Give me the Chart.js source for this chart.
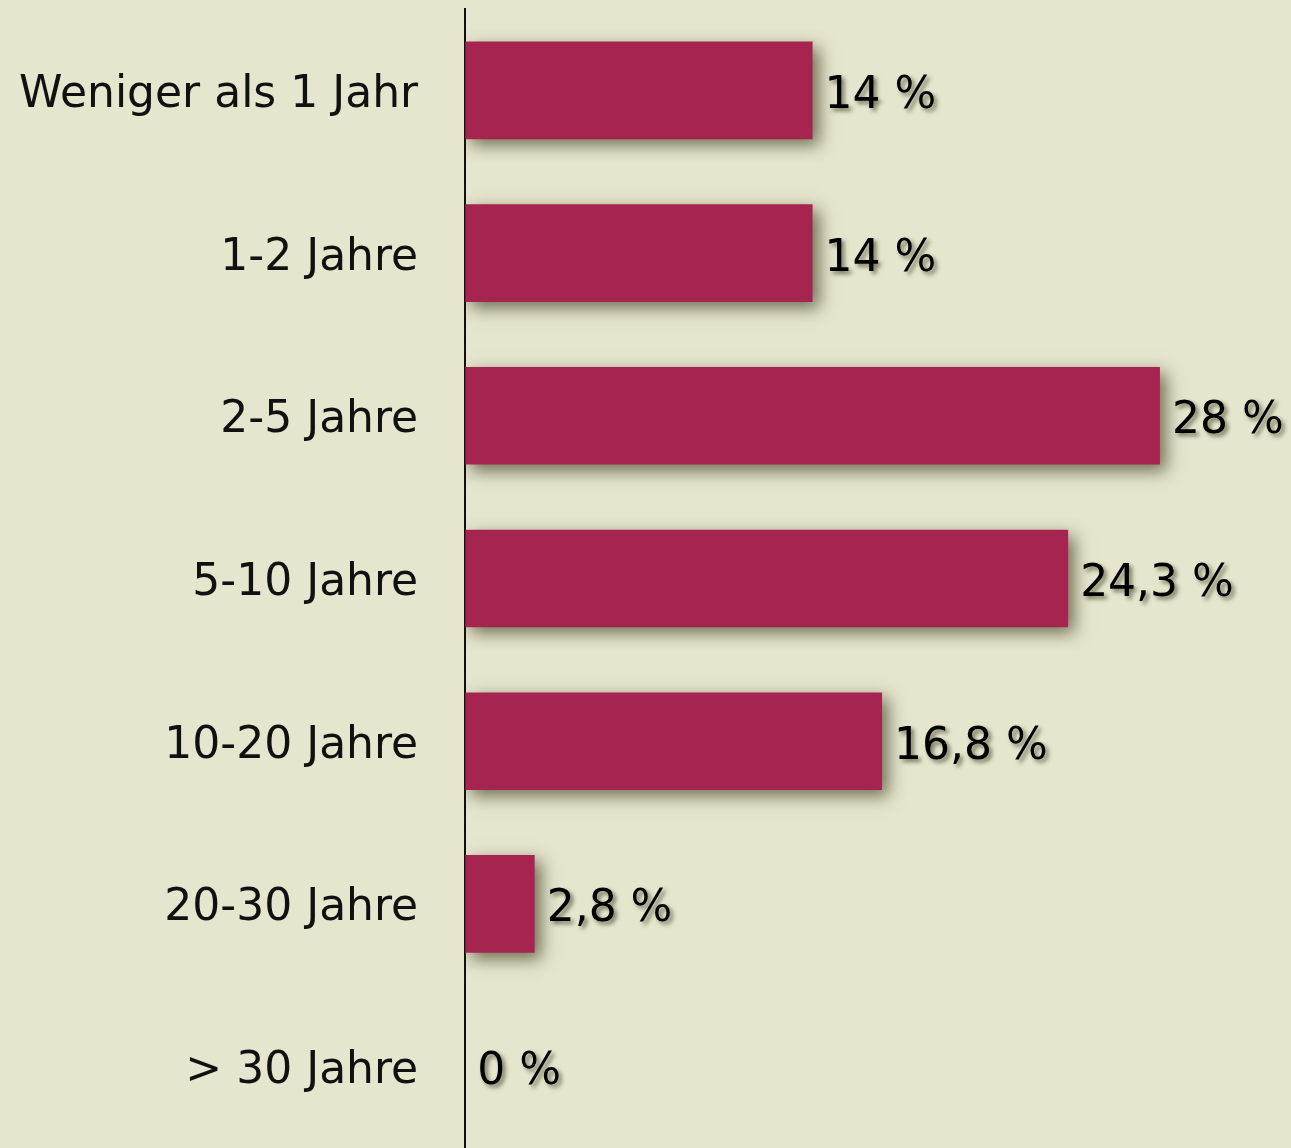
<!DOCTYPE html>
<html>
<head>
<meta charset="utf-8">
<script src="https://cdn.jsdelivr.net/npm/chart.js@4"></script>
<style>
  html, body { margin: 0; padding: 0; background: #e6e5ce; }
  #wrap { width: 1291px; height: 1148px; }
</style>
</head>
<body>
<div id="wrap"><canvas id="chart"></canvas></div>
<script>
const categories = ['Weniger als 1 Jahr', '1-2 Jahre', '2-5 Jahre', '5-10 Jahre', '10-20 Jahre', '20-30 Jahre', '> 30 Jahre'];
const shares = [14, 14, 28, 24.3, 16.8, 2.8, 0];
const valueLabels = ['14 %', '14 %', '28 %', '24,3 %', '16,8 %', '2,8 %', '0 %'];

const FONT = '"DejaVu Sans", Verdana, sans-serif';
const FONT_SIZE = 44;

// Schatten für Balken
const barShadow = {
  id: 'barShadow',
  beforeDatasetsDraw(chart) {
    const ctx = chart.ctx;
    ctx.save();
    ctx.shadowColor = 'rgba(60, 60, 30, 0.7)';
    ctx.shadowBlur = 16;
    ctx.shadowOffsetX = 6;
    ctx.shadowOffsetY = 6;
  },
  afterDatasetsDraw(chart) {
    chart.ctx.restore();
  }
};

// Werte neben den Balken
const valueText = {
  id: 'valueText',
  afterDatasetsDraw(chart) {
    const ctx = chart.ctx;
    const meta = chart.getDatasetMeta(0);
    ctx.save();
    ctx.font = FONT_SIZE + 'px ' + FONT;
    ctx.textAlign = 'left';
    ctx.textBaseline = 'middle';
    ctx.fillStyle = '#000';
    ctx.shadowColor = 'rgba(60, 60, 30, 0.65)';
    ctx.shadowBlur = 4;
    ctx.shadowOffsetX = 3;
    ctx.shadowOffsetY = 3;
    meta.data.forEach((bar, i) => {
      ctx.fillText(valueLabels[i], bar.x + 12, bar.y + 6);
    });
    ctx.restore();
  }
};

new Chart(document.getElementById('chart'), {
  type: 'bar',
  data: {
    labels: categories,
    datasets: [{
      data: shares,
      backgroundColor: '#a52450',
      borderWidth: 0,
      categoryPercentage: 0.6,
      barPercentage: 1
    }]
  },
  options: {
    indexAxis: 'y',
    responsive: true,
    maintainAspectRatio: false,
    animation: false,
    layout: { padding: { top: 9, right: 7, bottom: 0, left: 17 } },
    plugins: {
      legend: { display: false },
      tooltip: { enabled: false }
    },
    scales: {
      x: {
        display: false,
        min: 0,
        max: 33
      },
      y: {
        z: 1,
        afterFit(scale) {
          scale.paddingTop = 0;
          scale.paddingBottom = 0;
        },
        grid: {
          display: true,
          drawOnChartArea: false,
          drawTicks: true,
          tickLength: 45,
          color: 'rgba(0,0,0,0)'
        },
        border: { display: true, color: '#111', width: 2 },
        ticks: {
          color: '#111',
          padding: 2,
          labelOffset: 5,
          font: { family: FONT, size: FONT_SIZE }
        }
      }
    }
  },
  plugins: [barShadow, valueText]
});
</script>
</body>
</html>
